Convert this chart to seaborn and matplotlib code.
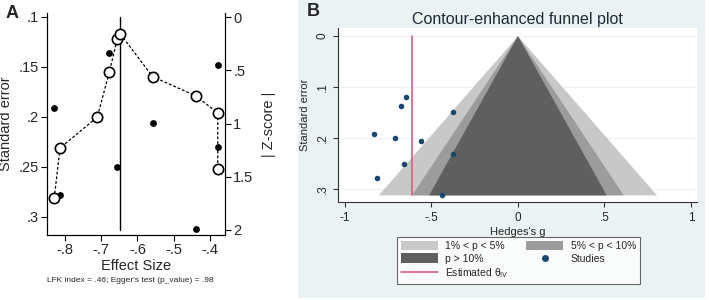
import matplotlib
matplotlib.use("Agg")
import matplotlib.pyplot as plt
import seaborn as sns
import pandas as pd
from matplotlib.patches import Patch
from matplotlib.lines import Line2D

# ---------------- data ----------------
study_effect = [-0.830, -0.814, -0.711, -0.678, -0.656, -0.647, -0.558, -0.439, -0.376, -0.377]
study_se = [0.191, 0.278, 0.200, 0.136, 0.250, 0.120, 0.206, 0.312, 0.148, 0.230]

doi_effect = [-0.830, -0.814, -0.711, -0.678, -0.656, -0.647, -0.558, -0.439, -0.378, -0.378]
doi_absz = [1.70, 1.23, 0.94, 0.52, 0.21, 0.16, 0.56, 0.74, 0.90, 1.43]

doi_center = -0.647
theta_iv = -0.613

contour_z = [2.576, 1.96, 1.645]
contour_labels = ["1% < p < 5%", "5% < p < 10%", "p > 10%"]
contour_colors = ["#c8c8c8", "#9c9c9c", "#5f5f5f"]

a_xticks = [-0.8, -0.7, -0.6, -0.5, -0.4]
a_xticklabels = ["-.8", "-.7", "-.6", "-.5", "-.4"]
a_yticks = [0.10, 0.15, 0.20, 0.25, 0.30]
a_yticklabels = [".1", ".15", ".2", ".25", ".3"]
a_zticks = [0, 0.5, 1, 1.5, 2]
a_zticklabels = ["0", ".5", "1", "1.5", "2"]
b_xticks = [-1, -0.5, 0, 0.5, 1]
b_xticklabels = ["-1", "-.5", "0", ".5", "1"]
b_yticks = [0, 0.1, 0.2, 0.3]
b_yticklabels = ["0", ".1", ".2", ".3"]

note_text = "LFK index = .46; Egger's test (p_value) = .98"

# ---------------- style ----------------
sns.set_theme(style="white")
plt.rcParams["font.family"] = ["Liberation Sans", "DejaVu Sans"]
plt.rcParams["mathtext.fontset"] = "custom"
plt.rcParams["mathtext.rm"] = "Liberation Sans"

W, H = 709, 300
fig = plt.figure(figsize=(W / 100, H / 100), dpi=100)


def fx(px):
    return px / W


def fy(py):
    return 1 - py / H


studies = pd.DataFrame({"effect": study_effect, "se": study_se})
doi = pd.DataFrame({"effect": doi_effect, "absz": doi_absz})

# ---------------- panel B background ----------------
bg = fig.add_axes([fx(298), fy(298), fx(705 - 298), 298 / H], zorder=-5)
bg.set_facecolor("#eaf2f3")
bg.set_xticks([])
bg.set_yticks([])
for s in bg.spines.values():
    s.set_visible(False)

# ---------------- panel A ----------------
axA = fig.add_axes([fx(47), fy(235), fx(225 - 47), (235 - 13) / H])
axA.set_facecolor("white")
sns.scatterplot(data=studies, x="effect", y="se", ax=axA, color="black",
                s=24, edgecolor="black", linewidth=0, zorder=3)
axA.set_xlim(-0.85, -0.358)
axA.set_ylim(0.318, 0.096)
axA.set_xticks(a_xticks)
axA.set_xticklabels(a_xticklabels)
axA.set_yticks(a_yticks)
axA.set_yticklabels(a_yticklabels)
axA.set_xlabel("Effect Size", fontsize=10.5, labelpad=1)
axA.set_ylabel("Standard error", fontsize=10.5, labelpad=4)
axA.tick_params(axis="both", direction="out", length=4, width=0.8,
                labelsize=10.5, color="black", pad=2, bottom=True, left=True)
for s in ["left", "bottom", "right"]:
    axA.spines[s].set_color("black")
    axA.spines[s].set_linewidth(0.8)
axA.spines["top"].set_visible(False)

axZ = axA.twinx()
axZ.set_ylim(2.047, -0.038)
axZ.plot([doi_center, doi_center], [0, 2], color="black", lw=1.0, zorder=1)
sns.lineplot(data=doi, x="effect", y="absz", ax=axZ, sort=False, estimator=None,
             color="black", lw=0.9, linestyle=(0, (2.2, 1.6)), zorder=2)
sns.scatterplot(data=doi, x="effect", y="absz", ax=axZ, s=55,
                facecolor="white", edgecolor="black", linewidth=1.2, zorder=4)
axZ.set_yticks(a_zticks)
axZ.set_yticklabels(a_zticklabels)
axZ.set_ylabel("| Z-score |", fontsize=10.5, labelpad=6)
axZ.set_xlabel("")
axZ.tick_params(axis="y", direction="out", length=4, width=0.8,
                labelsize=10.5, color="black", pad=2, right=True)
axZ.spines["top"].set_visible(False)
for s in ["left", "bottom", "right"]:
    axZ.spines[s].set_color("black")
    axZ.spines[s].set_linewidth(0.8)
axA.set_xlim(-0.85, -0.358)

fig.text(fx(130), fy(280), note_text, fontsize=6, ha="center", va="center")
fig.text(fx(6), fy(14), "A", fontsize=13, fontweight="bold", ha="left", va="center")

# ---------------- panel B ----------------
fig.text(fx(307), fy(12), "B", fontsize=13, fontweight="bold", ha="left", va="center")

axB = fig.add_axes([fx(338), fy(202), fx(697 - 338), (202 - 28) / H])
axB.set_facecolor("white")
se_max = max(study_se)
for z, col in zip(contour_z, contour_colors):
    axB.fill([0, z * se_max, -z * se_max], [0, se_max, se_max],
             color=col, lw=0, zorder=1)
for t in b_yticks:
    axB.axhline(t, color="#eaf2f3", lw=0.8, zorder=0.5)
axB.plot([theta_iv, theta_iv], [0, se_max], color="#d9607f", lw=1.2, zorder=2)
sns.scatterplot(data=studies, x="effect", y="se", ax=axB, color="#1a476f",
                s=16, linewidth=0, zorder=3)
axB.set_xlim(-1.04, 1.035)
axB.set_ylim(0.325, -0.016)
axB.set_xticks(b_xticks)
axB.set_xticklabels(b_xticklabels)
axB.set_yticks(b_yticks)
axB.set_yticklabels(b_yticklabels, rotation=90, va="center")
axB.set_xlabel("Hedges's g", fontsize=8, labelpad=2)
axB.set_ylabel("Standard error", fontsize=8, labelpad=5)
axB.tick_params(axis="both", direction="out", length=3.5, width=0.8,
                labelsize=8.5, color="#333333", bottom=True, left=True)
axB.tick_params(axis="x", pad=4)
axB.tick_params(axis="y", pad=3)
for s in ["top", "right"]:
    axB.spines[s].set_visible(False)
for s in ["left", "bottom"]:
    axB.spines[s].set_color("#333333")
    axB.spines[s].set_linewidth(0.8)
axB.set_title("Contour-enhanced funnel plot", fontsize=11.5, color="#1e2a38", pad=3)

handles = [
    Patch(facecolor=contour_colors[0], edgecolor="none"),
    Patch(facecolor=contour_colors[2], edgecolor="none"),
    Line2D([], [], color="#d9607f", lw=1.2),
    Patch(facecolor=contour_colors[1], edgecolor="none"),
    Line2D([], [], marker="o", color="#1a476f", lw=0, markersize=4),
]
labels = [contour_labels[0], contour_labels[2], r"Estimated θ$_{\mathregular{IV}}$",
          contour_labels[1], "Studies"]
leg = fig.legend(handles, labels, loc="upper left", ncol=2,
                 bbox_to_anchor=(fx(397), fy(237)), bbox_transform=fig.transFigure,
                 fontsize=7.5, frameon=True, fancybox=False, handlelength=3.6,
                 handleheight=1.0, handletextpad=0.7, columnspacing=1.6,
                 labelspacing=0.25, borderpad=0.35, borderaxespad=0)
leg.get_frame().set_edgecolor("#444444")
leg.get_frame().set_linewidth(0.8)
leg.get_frame().set_facecolor("white")

fig.savefig("out.png", dpi=100)
